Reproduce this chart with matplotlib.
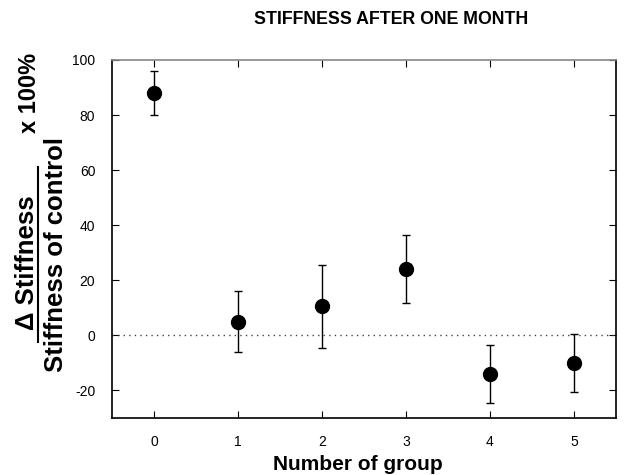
import matplotlib
matplotlib.use("Agg")
import matplotlib.pyplot as plt
from matplotlib.lines import Line2D

plt.rcParams['font.family'] = ['Liberation Sans', 'DejaVu Sans']
plt.rcParams['axes.unicode_minus'] = False

# data
groups = [0, 1, 2, 3, 4, 5]
means = [88, 5, 10.5, 24, -14, -10]
errors = [8, 11, 15, 12.3, 10.5, 10.5]
yticks = [-20, 0, 20, 40, 60, 80, 100]

fig = plt.figure(figsize=(6.24, 4.75), dpi=100)
ax = fig.add_axes([0.1795, 0.12, 0.8075, 0.7537])

ax.axhline(0, color='#444444', linestyle=(0, (1, 3)), linewidth=1)
ax.errorbar(groups, means, yerr=errors, fmt='o', color='black',
            markersize=10, ecolor='black', elinewidth=1, capsize=3, capthick=1)

ax.set_xlim(-0.5, 5.5)
ax.set_ylim(-30, 100)
ax.set_xticks(groups)
ax.set_yticks(yticks)
ax.tick_params(direction='in', top=True, right=True, length=5, labelsize=10, pad=12)
for s in ax.spines.values():
    s.set_linewidth(1.2)
ax.spines['top'].set_color('#888888')

# labels
fig.text(358/624, 1 - 464/475, 'Number of group', fontsize=15, fontweight='bold',
         ha='center', va='center')
fig.text(391/624, 1 - 20/475, 'STIFFNESS AFTER ONE MONTH', fontsize=12.8,
         fontweight='bold', ha='center', va='center')

# fraction style y label
fig.text(27/624, 1 - 263/475, '\u0394 Stiffness', rotation=90, fontsize=18.5,
         fontweight='bold', ha='center', va='center')
fig.text(56/624, 1 - 255/475, 'Stiffness of control', rotation=90, fontsize=18.5,
         fontweight='bold', ha='center', va='center')
fig.text(29/624, 1 - 93/475, 'x 100%', rotation=90, fontsize=17,
         fontweight='bold', ha='center', va='center')
fig.add_artist(Line2D([38/624, 38/624], [1 - 342/475, 1 - 167/475],
                      transform=fig.transFigure, color='black', linewidth=1.5))

fig.savefig('out.png', dpi=100)
